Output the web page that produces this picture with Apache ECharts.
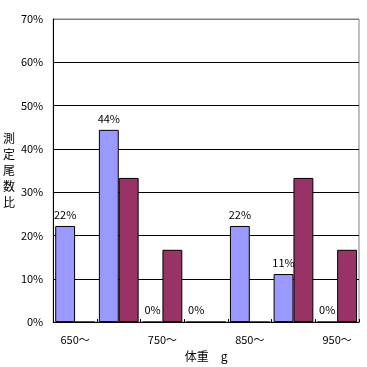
<!DOCTYPE html>
<html><head><meta charset="utf-8">
<script src="https://cdn.jsdelivr.net/npm/echarts@6/dist/echarts.min.js"></script>
<style>html,body{margin:0;padding:0;background:#fff}#c{width:367px;height:367px}</style>
</head><body><div id="c"></div>
<script>
const categories = ['650〜','700〜','750〜','800〜','850〜','900〜','950〜'];
const seriesA = [22.2, 44.4, 0, 0, 22.2, 11.1, 0];
const seriesB = [0, 33.3, 16.7, 0, 0, 33.3, 16.7];
const yTicks = [0, 10, 20, 30, 40, 50, 60, 70];
const font = "'Noto Sans CJK JP', sans-serif";
const chart = echarts.init(document.getElementById('c'));
chart.setOption({
  animation: false,
  grid: {left: 51, right: 8, top: 19, bottom: 44, show: true, borderColor: '#808080', borderWidth: 1},
  xAxis: {
    type: 'category', data: categories,
    name: '体重　g', nameLocation: 'middle', nameGap: 27,
    nameTextStyle: {fontFamily: font, fontSize: 12, color: '#000'},
    axisLine: {lineStyle: {color: '#000'}},
    axisTick: {show: true, inside: true, length: 3, interval: 0, lineStyle: {color: '#000'}},
    axisLabel: {interval: 1, fontFamily: font, fontSize: 11, color: '#000', margin: 12}
  },
  yAxis: {
    type: 'value', min: 0, max: 70, interval: 10,
    name: '測\n定\n尾\n数\n比', nameLocation: 'middle', nameRotate: 0, nameGap: 38,
    nameTextStyle: {fontFamily: font, fontSize: 12, color: '#000', lineHeight: 16, padding: [8, 0, 0, 0]},
    axisLine: {show: true, lineStyle: {color: '#000'}},
    axisTick: {show: false},
    axisLabel: {fontFamily: font, fontSize: 11, color: '#000', margin: 10,
      formatter: v => yTicks.includes(v) ? v + '%' : ''},
    splitLine: {lineStyle: {color: ['#000','#000','#000','#000','#000','#000','#000','#808080'], width: 1}}
  },
  series: [
    {type: 'bar', data: seriesA, barGap: '0%', barCategoryGap: '9%',
     itemStyle: {color: '#9999FF', borderColor: '#000', borderWidth: 1},
     label: {show: true, position: 'top', distance: 6, fontFamily: font, fontSize: 11, color: '#000',
       formatter: p => Math.round(p.value) + '%'}},
    {type: 'bar', data: seriesB,
     itemStyle: {color: '#993366', borderColor: '#000', borderWidth: 1}}
  ]
});
</script></body></html>
